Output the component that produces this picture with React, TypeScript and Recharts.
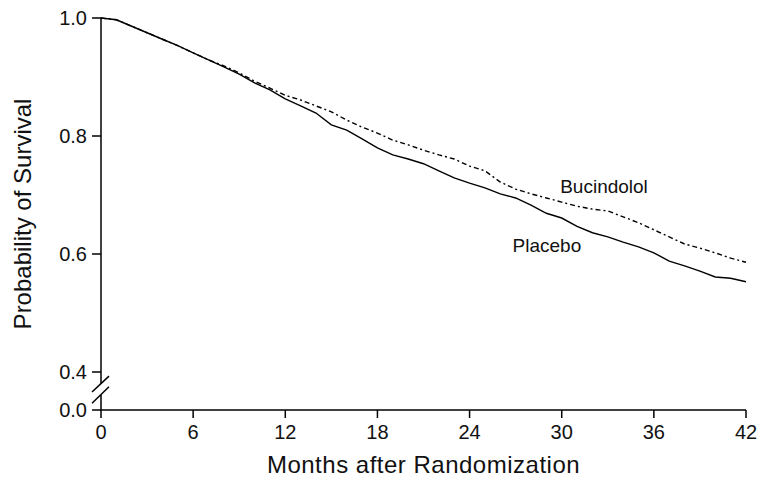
import { LineChart, Line, XAxis, YAxis, ReferenceLine, ReferenceDot, Label } from "recharts";

// Kaplan-Meier survival
const months = [
  0, 1, 2, 3, 4, 5, 6, 7, 8, 9, 10, 11, 12, 13, 14, 15, 16, 17, 18, 19, 20, 21,
  22, 23, 24, 25, 26, 27, 28, 29, 30, 31, 32, 33, 34, 35, 36, 37, 38, 39, 40, 41, 42,
];
const placebo = [
  1.0, 0.997, 0.986, 0.975, 0.964, 0.953, 0.941, 0.929, 0.917, 0.905, 0.89, 0.878,
  0.863, 0.851, 0.839, 0.819, 0.81, 0.795, 0.78, 0.768, 0.761, 0.753, 0.741, 0.729,
  0.72, 0.712, 0.702, 0.695, 0.683, 0.669, 0.661, 0.647, 0.636, 0.629, 0.62, 0.612,
  0.602, 0.588, 0.58, 0.571, 0.561, 0.559, 0.553,
];
const bucindolol = [
  1.0, 0.997, 0.986, 0.975, 0.964, 0.953, 0.941, 0.929, 0.919, 0.907, 0.893, 0.881,
  0.869, 0.861, 0.851, 0.841, 0.827, 0.815, 0.805, 0.793, 0.785, 0.776, 0.768, 0.761,
  0.749, 0.741, 0.722, 0.71, 0.702, 0.695, 0.688, 0.681, 0.676, 0.673, 0.663, 0.653,
  0.641, 0.629, 0.617, 0.61, 0.602, 0.593, 0.586,
];

const xTicks = [0, 6, 12, 18, 24, 30, 36, 42];
const yTickValues = [0.4, 0.6, 0.8, 1.0];

// broken axis: the "0.0" tick sits just under 0.4
const ZERO_POS = 0.3356;
const yTicks = [ZERO_POS, ...yTickValues];

const data = months.map((m, i) => ({ month: m, placebo: placebo[i], bucindolol: bucindolol[i] }));

const FONT = '"Liberation Sans", Arial, Helvetica, sans-serif';
const AXIS = { stroke: "#000", strokeWidth: 1.5 };

function CurveLabel(props: any) {
  const vb = props.viewBox || {};
  return (
    <text x={vb.x} y={vb.y} fontSize={19} fontFamily={FONT} fill="#111" textAnchor="start">
      {props.text}
    </text>
  );
}

export default function App() {
  return (
    <div style={{ position: "absolute", left: 0, top: 0, background: "#fff" }}>
      <LineChart width={757} height={481} data={data} margin={{ top: 18, right: 11, bottom: 0, left: 0 }}>
        <XAxis
          dataKey="month"
          type="number"
          domain={[0, 42]}
          ticks={xTicks}
          height={71}
          tickSize={8}
          tickMargin={7}
          axisLine={AXIS}
          tickLine={AXIS}
          tick={{ fill: "#111", fontSize: 20, fontFamily: FONT }}
        >
          <Label
            value="Months after Randomization"
            position="insideBottom"
            offset={8}
            style={{ fill: "#111", fontSize: 24, fontFamily: FONT, letterSpacing: 0.5 }}
          />
        </XAxis>
        <YAxis
          type="number"
          domain={[ZERO_POS, 1]}
          ticks={yTicks}
          width={101}
          tickSize={9}
          tickMargin={5}
          axisLine={false}
          tickLine={AXIS}
          tickFormatter={(v: number) => (v < 0.39 ? "0.0" : v.toFixed(1))}
          tick={{ fill: "#111", fontSize: 20, fontFamily: FONT }}
        >
          <Label
            value="Probability of Survival"
            angle={-90}
            position="insideLeft"
            offset={22}
            style={{ fill: "#111", fontSize: 24, fontFamily: FONT, textAnchor: "middle" }}
          />
        </YAxis>

        {/* y axis line with the break marks */}
        <ReferenceLine segment={[{ x: 0, y: 1 }, { x: 0, y: 0.38 }]} stroke="#000" strokeWidth={1.5} ifOverflow="visible" />
        <ReferenceLine segment={[{ x: 0, y: 0.361 }, { x: 0, y: ZERO_POS }]} stroke="#000" strokeWidth={1.5} ifOverflow="visible" />
        <ReferenceLine segment={[{ x: -0.586, y: 0.366 }, { x: 0.521, y: 0.393 }]} stroke="#000" strokeWidth={1.5} ifOverflow="visible" />
        <ReferenceLine segment={[{ x: -0.586, y: 0.347 }, { x: 0.521, y: 0.375 }]} stroke="#000" strokeWidth={1.5} ifOverflow="visible" />

        <Line
          type="linear"
          dataKey="bucindolol"
          stroke="#000"
          strokeWidth={1.4}
          strokeDasharray="5 3 2 3"
          dot={false}
          isAnimationActive={false}
        />
        <Line
          type="linear"
          dataKey="placebo"
          stroke="#000"
          strokeWidth={1.4}
          dot={false}
          isAnimationActive={false}
        />

        <ReferenceDot x={29.9} y={0.703} r={0} fill="none" stroke="none" label={<CurveLabel text="Bucindolol" />} />
        <ReferenceDot x={26.8} y={0.603} r={0} fill="none" stroke="none" label={<CurveLabel text="Placebo" />} />
      </LineChart>
    </div>
  );
}
